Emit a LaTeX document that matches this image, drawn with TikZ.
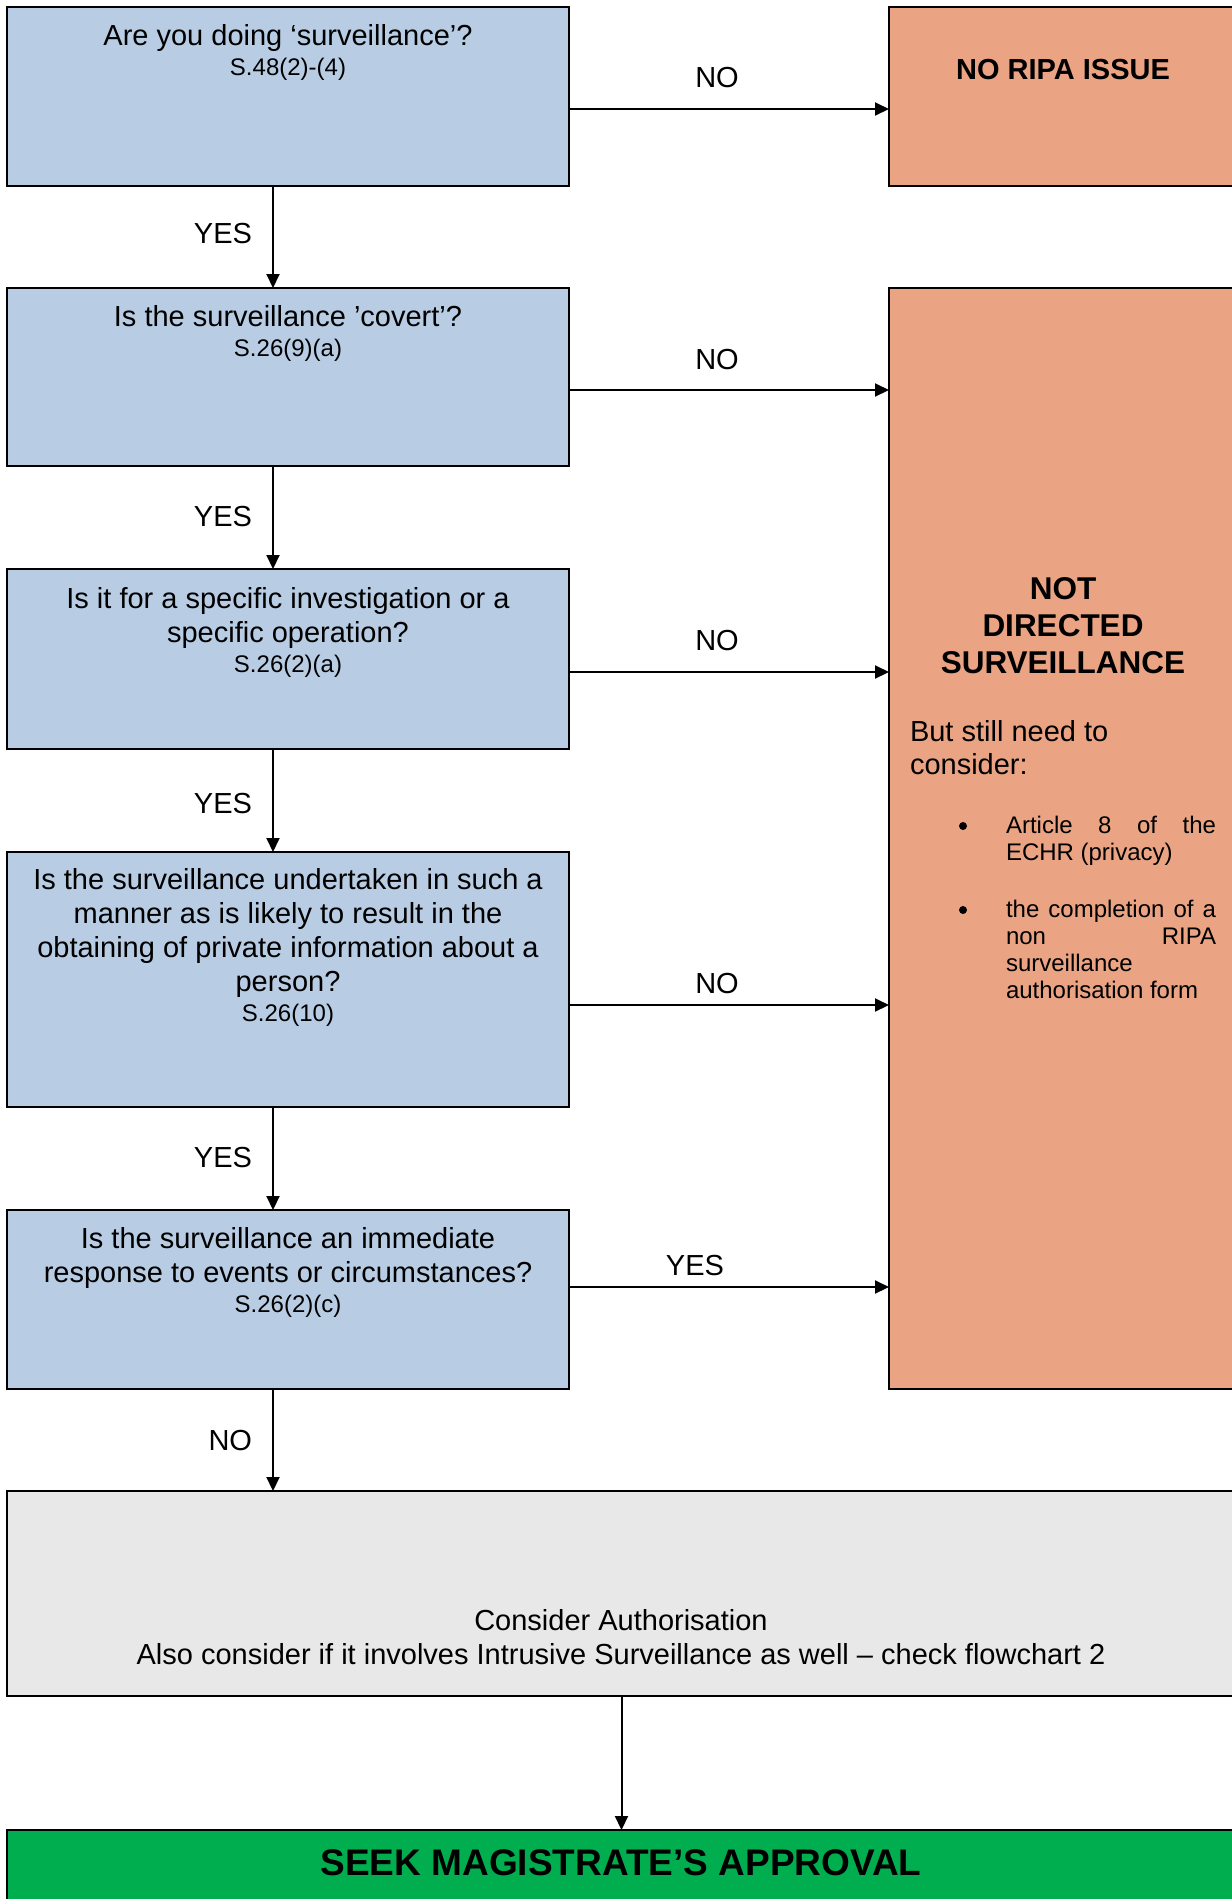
\documentclass[tikz,border=0pt]{standalone}
\usepackage{fontspec}
\setmainfont{Liberation Sans}
\usetikzlibrary{arrows.meta,calc}

\definecolor{qblue}{HTML}{B8CCE4}
\definecolor{outorange}{HTML}{EAA484}
\definecolor{authgrey}{HTML}{E8E8E8}
\definecolor{okgreen}{HTML}{00AE4F}

% question text: main wording plus the statutory reference underneath
\newcommand{\questiontext}[2]{%
  \parbox[t]{540pt}{\centering\fontsize{29}{34}\selectfont #1\par
  \fontsize{24}{30}\selectfont #2}}

\begin{document}
\begin{tikzpicture}[x=1pt, y=-1pt,
  every node/.style={inner sep=0pt, outer sep=0pt},
  frame/.style={draw=black, line width=2pt, rectangle, anchor=north west},
  qbox/.style={frame, fill=qblue, minimum width=562pt},
  outbox/.style={frame, fill=outorange, minimum width=350pt},
  widebox/.style={frame, minimum width=1229pt},
  arr/.style={draw=black, line width=2pt, -{Triangle[length=14pt,width=13pt]}},
  lbl/.style={font=\fontsize{29}{34}\selectfont},
]
\useasboundingbox (0,0) rectangle (1232,1899);
\clip (0,0) rectangle (1232,1899);

% decision boxes
\node[qbox, minimum height=179pt] (q1) at (7,7) {};
\node[qbox, minimum height=178pt] (q2) at (7,288) {};
\node[qbox, minimum height=180pt] (q3) at (7,569) {};
\node[qbox, minimum height=255pt] (q4) at (7,852) {};
\node[qbox, minimum height=179pt] (q5) at (7,1210) {};

% outcome boxes
\node[outbox, minimum height=179pt] (noripa) at (889,7) {};
\node[outbox, minimum height=1101pt] (notdir) at (889,288) {};
\node[widebox, fill=authgrey, minimum height=205pt] (auth) at (7,1491) {};
\node[widebox, fill=okgreen, minimum height=100pt] (magis) at (7,1830) {};

% question texts
\node[anchor=base] (q1t) at (288,45) {\questiontext{Are you doing ‘surveillance’?}{S.48(2)-(4)}};
\node[anchor=base] (q2t) at (288,326) {\questiontext{Is the surveillance ’covert’?}{S.26(9)(a)}};
\node[anchor=base] (q3t) at (288,608) {\questiontext{Is it for a specific investigation or a\\specific operation?}{S.26(2)(a)}};
\node[anchor=base] (q4t) at (288,889) {\questiontext{Is the surveillance undertaken in such a\\manner as is likely to result in the\\obtaining of private information about a\\person?}{S.26(10)}};
\node[anchor=base] (q5t) at (288,1248) {\questiontext{Is the surveillance an immediate\\response to events or circumstances?}{S.26(2)(c)}};

% outcome texts
\node[anchor=base, font=\bfseries\fontsize{29}{34}\selectfont] (noripat) at (1063,79) {NO RIPA ISSUE};
\node[anchor=base] (notdirt) at (1063,599)
  {\parbox[t]{320pt}{\centering\bfseries\fontsize{31.5}{37}\selectfont NOT\\DIRECTED\\SURVEILLANCE}};
\node[anchor=base west] (still) at (910,741)
  {\parbox[t]{300pt}{\raggedright\fontsize{29}{33}\selectfont But still need to\\consider:}};
\node[circle, fill=black, minimum size=8pt] (dot1) at (963,826) {};
\node[circle, fill=black, minimum size=8pt] (dot2) at (963,910) {};
\node[anchor=base west] (item1) at (1006,833)
  {\parbox[t]{210pt}{\fontsize{24}{27.3}\selectfont\makebox[210pt][s]{Article 8 of the}\\ECHR (privacy)}};
\node[anchor=base west] (item2) at (1006,917)
  {\parbox[t]{210pt}{\fontsize{24}{27.3}\selectfont\makebox[210pt][s]{the completion of a}\\\makebox[210pt][s]{non RIPA}\\surveillance\\authorisation form}};
\node[anchor=base] (autht) at (621,1630)
  {\parbox[t]{1100pt}{\centering\fontsize{29}{34}\selectfont Consider Authorisation\\Also consider if it involves Intrusive Surveillance as well – check flowchart 2}};
\node[anchor=base, font=\bfseries\fontsize{37}{44}\selectfont] (magist) at (621,1875) {SEEK MAGISTRATE’S APPROVAL};

% connectors
\coordinate (col) at (273,0);
\coordinate (h1) at ($(q1.north east)+(0,102)$);
\coordinate (h2) at ($(q2.north east)+(0,102)$);
\coordinate (h3) at ($(q3.north east)+(0,103)$);
\coordinate (h4) at ($(q4.north east)+(0,153)$);
\coordinate (h5) at ($(q5.north east)+(0,77)$);

\draw[arr] (h1) -- (h1 -| noripa.west);
\draw[arr] (h2) -- (h2 -| notdir.west);
\draw[arr] (h3) -- (h3 -| notdir.west);
\draw[arr] (h4) -- (h4 -| notdir.west);
\draw[arr] (h5) -- (h5 -| notdir.west);

\draw[arr] (q1.south -| col) -- (q2.north -| col);
\draw[arr] (q2.south -| col) -- (q3.north -| col);
\draw[arr] (q3.south -| col) -- (q4.north -| col);
\draw[arr] (q4.south -| col) -- (q5.north -| col);
\draw[arr] (q5.south -| col) -- (auth.north -| col);
\draw[arr] (auth.south) -- (magis.north);

% connector labels
\node[lbl, anchor=base] (no1) at (717,87) {NO};
\node[lbl, anchor=base] (no2) at (717,369) {NO};
\node[lbl, anchor=base] (no3) at (717,650) {NO};
\node[lbl, anchor=base] (no4) at (717,993) {NO};
\node[lbl, anchor=base] (yes5) at (695,1275) {YES};
\node[lbl, anchor=base east] (yes1) at (252,243) {YES};
\node[lbl, anchor=base east] (yes2) at (252,526) {YES};
\node[lbl, anchor=base east] (yes3) at (252,813) {YES};
\node[lbl, anchor=base east] (yes4) at (252,1167) {YES};
\node[lbl, anchor=base east] (no5) at (252,1450) {NO};
\end{tikzpicture}
\end{document}
